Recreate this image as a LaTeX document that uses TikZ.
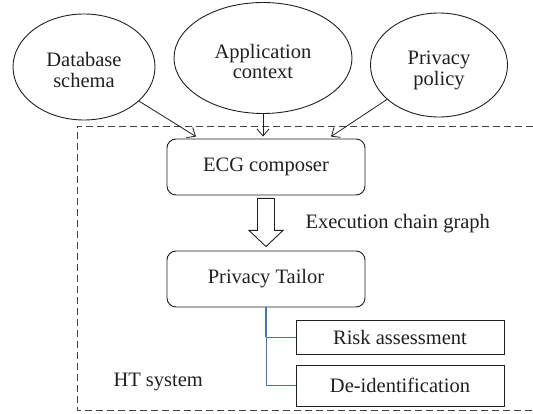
\documentclass[tikz,border=0pt]{standalone}
\usepackage{fontspec}
\setmainfont{Liberation Serif}
\usetikzlibrary{shapes.geometric,arrows.meta,calc}
\definecolor{inkgray}{RGB}{35,31,32}
\definecolor{linkblue}{RGB}{68,114,196}
% two centred lines, set a little below the middle of their shape
\newcommand{\twolines}[2]{\raisebox{-6pt}[\height][\depth]{%
  \renewcommand{\arraystretch}{0.91}%
  \begin{tabular}{@{}c@{}}#1\\#2\end{tabular}}}
\begin{document}
\begin{tikzpicture}[x=1pt,y=-1pt,
  every node/.style={font=\fontsize{20.5}{22}\selectfont, text=inkgray},
  source/.style={draw=inkgray, ellipse, line width=0.9pt, inner sep=0pt},
  stage/.style={draw=inkgray, rounded corners=9pt, line width=0.9pt,
    minimum width=198pt, minimum height=56pt},
  task/.style={draw=inkgray, line width=0.9pt, minimum width=208pt},
  feed/.style={draw=inkgray, line width=0.8pt, -{Straight Barb[length=7pt,width=12pt]}},
  boundary/.style={draw=inkgray!85, line width=0.9pt, dash pattern=on 7pt off 4pt},
  link/.style={draw=linkblue, line width=0.9pt},
  hollow/.style={draw=inkgray, line width=0.9pt, fill=white}
]
\useasboundingbox (0,0) rectangle (533,414);

% system boundary (open on the right)
\draw[boundary] (533,126) -- (77,126) -- (77,410) -- (533,410);

% inputs
\node[source, minimum width=142pt, minimum height=106pt] (db)  at (84,67)
  {\twolines{Database}{schema}};
\node[source, minimum width=178pt, minimum height=111pt] (app) at (263,58)
  {\twolines{Application}{context}};
\node[source, minimum width=137pt, minimum height=104pt] (pol) at (439,65)
  {\twolines{Privacy}{policy}};

% processing stages
\node[stage] (ecg)    at (266,167) {ECG composer};
\node[stage] (tailor) at (266,279) {Privacy Tailor};
\node[task, minimum height=34pt] (risk) at (400,337)   {Risk assessment};
\node[task, minimum height=41pt] (deid) at (400,385.5) {De-identification};

\node[anchor=west] (ecglabel) at (302,224) {Execution chain graph};
\node[anchor=west] (htlabel)  at (110,382) {HT system};

% inputs feeding the composer
\draw[feed] (db)  -- ($(ecg.north)+(-70,-2)$);
\draw[feed] (app) -- ($(ecg.north)+(-3,-2)$);
\draw[feed] (pol) -- ($(ecg.north)+(65,-2)$);

% hollow block arrow between the stages
\draw[hollow]
  ($(ecg.south)+(-8.5,3)$) -- ($(ecg.south)+(8.5,3)$) --
  ($(ecg.south)+(8.5,35)$) -- ($(ecg.south)+(17,35)$) --
  ($(tailor.north)+(0,-4)$) -- ($(ecg.south)+(-17,35)$) --
  ($(ecg.south)+(-8.5,35)$) -- cycle;

% tailor sub-tasks
\draw[link, line width=1.4pt] (tailor.south) -- (tailor.south |- risk.west);
\draw[link] (tailor.south |- risk.west) -- (risk.west);
\draw[link] (tailor.south |- risk.west) |- (deid.west);
\end{tikzpicture}
\end{document}
